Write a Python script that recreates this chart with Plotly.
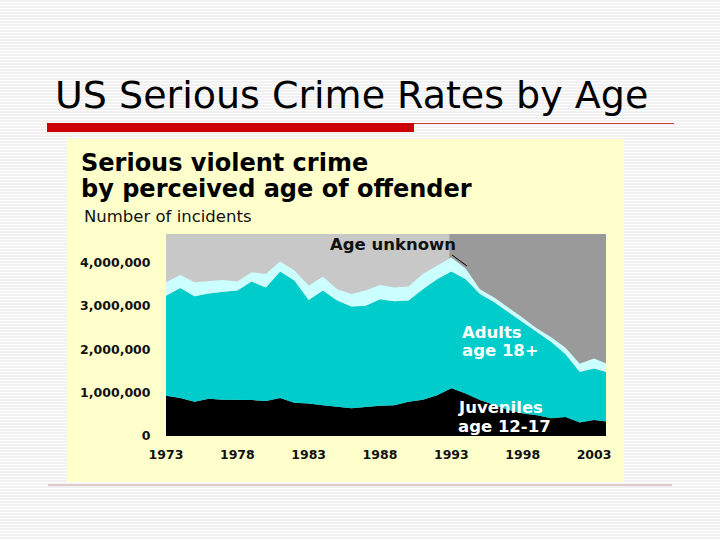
import plotly.graph_objects as go

# ---------------- data (millions of incidents) ----------------
years = [1973, 1974, 1975, 1976, 1977, 1978, 1979, 1980, 1981, 1982,
         1983, 1984, 1985, 1986, 1987, 1988, 1989, 1990, 1991, 1992,
         1993, 1994, 1995, 1996, 1997, 1998, 1999, 2000, 2001, 2002,
         2003, 2004]
juveniles = [0.93, 0.88, 0.79, 0.86, 0.84, 0.84, 0.83, 0.81, 0.88, 0.77,
             0.75, 0.71, 0.67, 0.64, 0.67, 0.70, 0.71, 0.79, 0.84, 0.94,
             1.10, 0.98, 0.83, 0.71, 0.60, 0.52, 0.48, 0.41, 0.44, 0.31,
             0.37, 0.33]
adults = [2.31, 2.54, 2.44, 2.43, 2.49, 2.52, 2.74, 2.62, 2.92, 2.82,
          2.39, 2.65, 2.46, 2.35, 2.34, 2.46, 2.40, 2.34, 2.55, 2.68,
          2.70, 2.64, 2.45, 2.38, 2.26, 2.11, 1.92, 1.76, 1.45, 1.17,
          1.19, 1.13]
unknown = [0.31, 0.30, 0.32, 0.28, 0.27, 0.21, 0.21, 0.31, 0.23, 0.23,
           0.33, 0.32, 0.26, 0.29, 0.35, 0.33, 0.32, 0.32, 0.35, 0.31,
           0.32, 0.25, 0.11, 0.11, 0.11, 0.10, 0.08, 0.11, 0.15, 0.19,
           0.23, 0.19]
x_ticks = [1973, 1978, 1983, 1988, 1993, 1998, 2003]
y_ticks = [0, 1000000, 2000000, 3000000, 4000000]
y_tick_labels = ["0", "1,000,000", "2,000,000", "3,000,000", "4,000,000"]

slide_title = "US Serious Crime Rates by Age"
chart_title_1 = "Serious violent crime"
chart_title_2 = "by perceived age of offender"
chart_subtitle = "Number of incidents"

M = 1e6
W, H = 720, 540


def fx(p):
    return p / W


def fy(p):
    return 1 - p / H


fig = go.Figure()
series = [
    ("Juveniles", juveniles, "#000000"),
    ("Adults", adults, "#00CCCC"),
    ("Age unknown", unknown, "#CCFFFF"),
]
for name, vals, col in series:
    fig.add_trace(go.Scatter(
        x=years, y=[v * M for v in vals], name=name, mode="lines",
        stackgroup="one", line=dict(width=0, color=col), fillcolor=col,
        hoverinfo="skip"))

shapes = []
# striped slide background
for yy in range(1, H, 3):
    shapes.append(dict(type="line", xref="paper", yref="paper", x0=0, x1=1,
                       y0=fy(yy), y1=fy(yy), layer="below",
                       line=dict(color="#E2E2E2", width=1)))
# red title rule
shapes.append(dict(type="rect", xref="paper", yref="paper", x0=fx(47), x1=fx(414),
                   y0=fy(132), y1=fy(123), layer="below",
                   fillcolor="#CC0000", line=dict(width=0)))
shapes.append(dict(type="line", xref="paper", yref="paper", x0=fx(414), x1=fx(674),
                   y0=fy(123.5), y1=fy(123.5), layer="below",
                   line=dict(color="#C04040", width=1)))
# chart panel
shapes.append(dict(type="rect", xref="paper", yref="paper", x0=fx(67), x1=fx(624),
                   y0=fy(482), y1=fy(139), layer="below",
                   fillcolor="#FFFFCC", line=dict(width=0)))
# bottom rule
shapes.append(dict(type="line", xref="paper", yref="paper", x0=fx(48), x1=fx(672),
                   y0=fy(485), y1=fy(485), layer="below",
                   line=dict(color="#DDCCCC", width=2)))
# plot backgrounds (before / after 1993 redesign)
split = 1992.85
x_end = 2003.84
shapes.append(dict(type="rect", xref="x", yref="y domain", x0=1973, x1=split,
                   y0=0, y1=1, layer="below", fillcolor="#C8C8C8", line=dict(width=0)))
shapes.append(dict(type="rect", xref="x", yref="y domain", x0=split, x1=x_end,
                   y0=0, y1=1, layer="below", fillcolor="#9A9A9A", line=dict(width=0)))
# pointer for "Age unknown"
shapes.append(dict(type="line", xref="paper", yref="paper", x0=fx(452), x1=fx(467),
                   y0=fy(255), y1=fy(266), layer="above",
                   line=dict(color="#000000", width=1)))

bold = "DejaVu Sans"
annotations = [
    dict(text=slide_title, x=fx(53), y=fy(95), xanchor="left", yanchor="middle",
         font=dict(family="DejaVu Sans", size=38, color="#000000")),
    dict(text="<b>" + chart_title_1 + "</b>", x=fx(79), y=fy(163), xanchor="left",
         yanchor="middle", font=dict(family=bold, size=24, color="#000000")),
    dict(text="<b>" + chart_title_2 + "</b>", x=fx(79), y=fy(189), xanchor="left",
         yanchor="middle", font=dict(family=bold, size=24, color="#000000")),
    dict(text=chart_subtitle, x=fx(82), y=fy(216), xanchor="left", yanchor="middle",
         font=dict(family="DejaVu Sans", size=16.5, color="#111111")),
    dict(text="<b>Age unknown</b>", x=fx(393), y=fy(244), xanchor="center",
         yanchor="middle", font=dict(family=bold, size=16.5, color="#111111")),
    dict(text="<b>Adults</b>", x=fx(460), y=fy(332), xanchor="left", yanchor="middle",
         font=dict(family=bold, size=16.5, color="#FFFFFF")),
    dict(text="<b>age 18+</b>", x=fx(460), y=fy(350), xanchor="left", yanchor="middle",
         font=dict(family=bold, size=16.5, color="#FFFFFF")),
    dict(text="<b>Juveniles</b>", x=fx(456), y=fy(407), xanchor="left", yanchor="middle",
         font=dict(family=bold, size=16.5, color="#FFFFFF")),
    dict(text="<b>age 12-17</b>", x=fx(456), y=fy(426), xanchor="left", yanchor="middle",
         font=dict(family=bold, size=16.5, color="#FFFFFF")),
]
for a in annotations:
    a.update(xref="paper", yref="paper", showarrow=False)

fig.update_layout(
    width=W, height=H, margin=dict(l=0, r=0, t=0, b=0, pad=0, autoexpand=False),
    paper_bgcolor="#FFFFFF", plot_bgcolor="rgba(0,0,0,0)",
    showlegend=False, shapes=shapes, annotations=annotations,
    xaxis=dict(domain=[fx(166), fx(606)], range=[1973, x_end], automargin=False,
               tickvals=x_ticks, ticktext=["<b>" + str(t) + "</b>" for t in x_ticks],
               showgrid=False, zeroline=False, showline=False,
               ticks="outside", ticklen=7, tickcolor="rgba(0,0,0,0)",
               tickfont=dict(family=bold, size=12.5, color="#111111")),
    yaxis=dict(domain=[fy(436), fy(234)], range=[0, 4.665 * M], automargin=False,
               tickvals=y_ticks, ticktext=["<b>" + t + "</b>" for t in y_tick_labels],
               showgrid=False, zeroline=False, showline=False,
               ticks="outside", ticklen=12, tickcolor="rgba(0,0,0,0)",
               tickfont=dict(family=bold, size=12.5, color="#111111")),
)

fig.write_html(
    "out.html",
    config={"displayModeBar": False},
    post_script="document.body.style.margin='0';document.body.style.overflow='hidden';",
)
